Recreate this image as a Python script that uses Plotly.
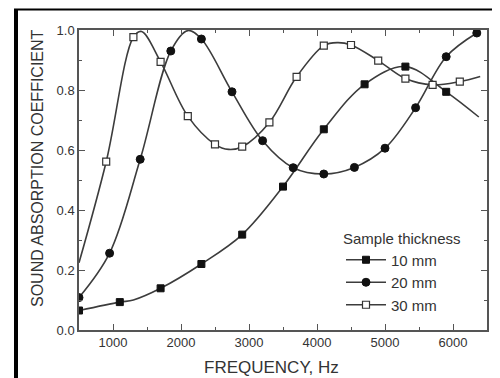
import plotly.graph_objects as go

# ---- data ----
freq_10_markers = [500, 1100, 1700, 2300, 2900, 3500, 4100, 4700, 5300, 5900]
alpha_10_markers = [0.065, 0.093, 0.139, 0.220, 0.318, 0.478, 0.669, 0.819, 0.878, 0.794]
freq_10_line = [500, 1100, 1300, 1700, 2300, 2900, 3500, 4100, 4700, 5300, 5900, 6380]
alpha_10_line = [0.065, 0.093, 0.100, 0.139, 0.220, 0.318, 0.478, 0.669, 0.819, 0.878, 0.794, 0.710]

freq_20_markers = [500, 950, 1400, 1850, 2300, 2750, 3200, 3650, 4100, 4550, 5000, 5450, 5900, 6350]
alpha_20_markers = [0.108, 0.256, 0.569, 0.930, 0.970, 0.794, 0.631, 0.541, 0.520, 0.542, 0.606, 0.741, 0.911, 0.990]
freq_20_line = [500, 950, 1400, 1850, 2100, 2300, 2750, 3200, 3650, 4100, 4550, 5000, 5450, 5900, 6350]
alpha_20_line = [0.108, 0.256, 0.569, 0.930, 0.998, 0.970, 0.794, 0.631, 0.541, 0.520, 0.542, 0.606, 0.741, 0.911, 0.990]

freq_30_markers = [900, 1300, 1700, 2100, 2500, 2900, 3300, 3700, 4100, 4500, 4900, 5300, 5700, 6100]
alpha_30_markers = [0.561, 0.976, 0.894, 0.713, 0.619, 0.611, 0.692, 0.844, 0.948, 0.950, 0.898, 0.838, 0.817, 0.828]
freq_30_line = [500, 900, 1300, 1420, 1700, 2100, 2500, 2700, 2900, 3300, 3700, 4100, 4300, 4500, 4900, 5300, 5700, 6100, 6400]
alpha_30_line = [0.224, 0.561, 0.976, 0.995, 0.894, 0.713, 0.619, 0.602, 0.611, 0.692, 0.844, 0.948, 0.958, 0.950, 0.898, 0.838, 0.817, 0.828, 0.845]

series_names = ["10 mm", "20 mm", "30 mm"]
x_ticks = [1000, 2000, 3000, 4000, 5000, 6000]
y_ticks = [0.0, 0.2, 0.4, 0.6, 0.8, 1.0]

LINE = "#3c3c3c"
TXT = "#333333"
FONT = "Liberation Sans, Arial, sans-serif"

fig = go.Figure()

series = [
    (freq_10_line, alpha_10_line, freq_10_markers, alpha_10_markers, "square", 7),
    (freq_20_line, alpha_20_line, freq_20_markers, alpha_20_markers, "circle", 8),
    (freq_30_line, alpha_30_line, freq_30_markers, alpha_30_markers, "open", 7),
]

for name, (xl, yl, xm, ym, sym, ms) in zip(series_names, series):
    fig.add_trace(go.Scatter(x=xl, y=yl, mode="lines",
                             line=dict(color=LINE, width=1.6, shape="spline", smoothing=1.0),
                             showlegend=False, hoverinfo="skip"))
    if sym == "open":
        mk = dict(symbol="square", size=ms, color="white", line=dict(color="#333333", width=1.2))
    else:
        mk = dict(symbol=sym, size=ms, color="#111111", line=dict(color="#111111", width=1.0))
    fig.add_trace(go.Scatter(x=xm, y=ym, mode="markers", marker=mk, showlegend=False))
    fig.add_trace(go.Scatter(x=[None], y=[None], mode="lines+markers", name=name,
                             line=dict(color=LINE, width=1.6), marker=mk))

# page body has an 8px margin: build the figure 8px smaller and shift page coordinates
OFF = 8
W, H = 500 - OFF, 378 - OFF
L, T = 79 - OFF, 30 - OFF
pw, ph = 408, 300
R, B = W - L - pw, H - T - ph

def px_x(p):  # page pixel -> paper x
    return (p - OFF - L) / pw

def px_y(p):  # page pixel -> paper y
    return (T + ph - (p - OFF)) / ph

axis_common = dict(showline=True, linecolor="#555555", linewidth=1.5, mirror="allticks",
                   ticks="inside", ticklen=6, tickwidth=1.3, tickcolor="#555555",
                   showgrid=False, zeroline=False, automargin=False,
                   tickfont=dict(family=FONT, size=13, color=TXT))

fig.update_xaxes(range=[500, 6500], tickvals=x_ticks,
                 minor=dict(ticks="inside", ticklen=3, dtick=500, tick0=500, tickcolor="#555555", showgrid=False),
                 **axis_common)
fig.update_yaxes(range=[0, 1.0], tickvals=y_ticks, tickformat=".1f",
                 minor=dict(ticks="inside", ticklen=3, dtick=0.1, tick0=0, tickcolor="#555555", showgrid=False),
                 **axis_common)

fig.update_layout(
    width=W, height=H,
    margin=dict(l=L, r=R, t=T, b=B, autoexpand=False),
    paper_bgcolor="white", plot_bgcolor="white",
    font=dict(family=FONT, color=TXT),
    legend=dict(x=px_x(341), y=px_y(224), xanchor="left", yanchor="top",
                bgcolor="rgba(0,0,0,0)", borderwidth=0, itemwidth=40,
                title=dict(text="Sample thickness", font=dict(family=FONT, size=15, color=TXT)),
                font=dict(family=FONT, size=15, color=TXT), tracegroupgap=0),
    annotations=[
        dict(text="FREQUENCY, Hz", xref="paper", yref="paper", x=px_x(271), y=px_y(367),
             xanchor="center", yanchor="middle", showarrow=False,
             font=dict(family=FONT, size=17, color=TXT)),
        dict(text="SOUND ABSORPTION COEFFICIENT", xref="paper", yref="paper", x=px_x(37.5), y=px_y(168.5),
             xanchor="center", yanchor="middle", showarrow=False, textangle=-90,
             font=dict(family=FONT, size=16, color=TXT)),
    ],
    shapes=[
        dict(type="line", xref="paper", yref="paper", x0=px_x(14), x1=px_x(500), y0=px_y(9.5), y1=px_y(9.5),
             line=dict(color="black", width=2)),
        dict(type="rect", xref="paper", yref="paper", x0=px_x(14), x1=px_x(18), y0=px_y(9.5), y1=px_y(378),
             line=dict(width=0), fillcolor="black"),
    ],
)

fig.write_html("out.html")
